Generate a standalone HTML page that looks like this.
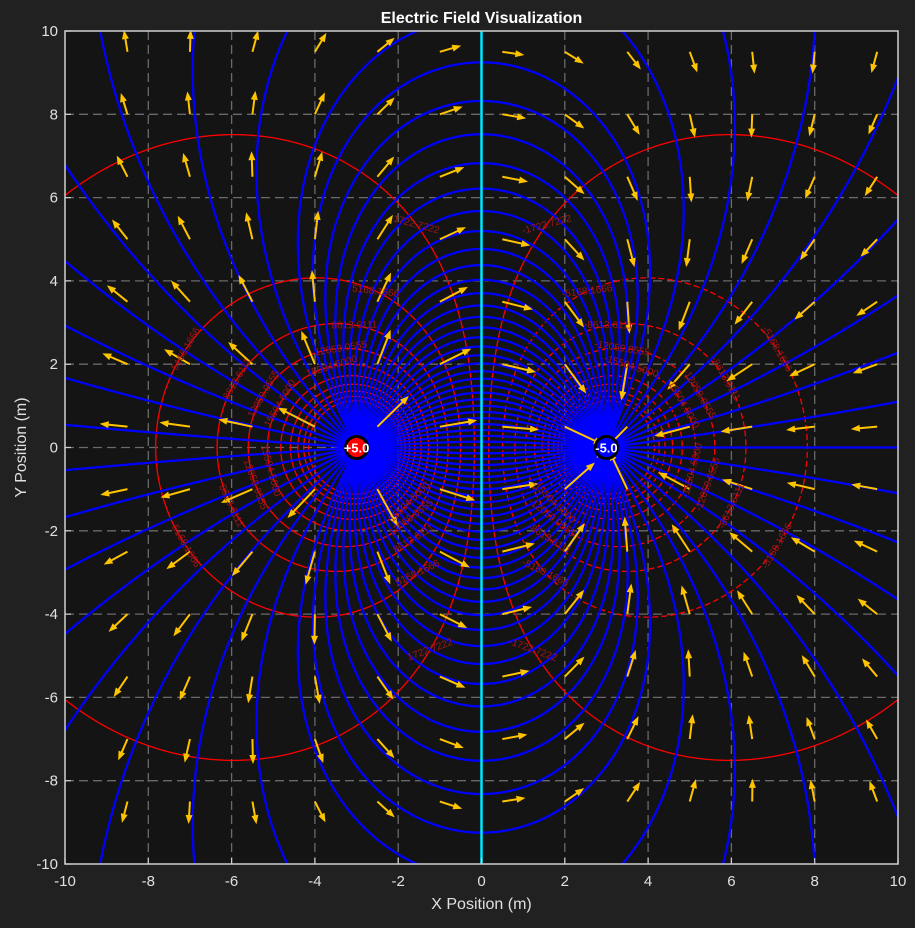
<!DOCTYPE html>
<html><head><meta charset="utf-8"><style>
html,body{margin:0;padding:0;background:#212121;}
svg{display:block;font-family:"Liberation Sans",sans-serif;}
</style></head><body>
<svg id="chart" width="915" height="928" viewBox="0 0 915 928" xmlns="http://www.w3.org/2000/svg">
<rect x="0" y="0" width="915" height="928" fill="#212121"/>
<defs><clipPath id="plotclip"><rect x="65" y="31" width="833" height="833"/></clipPath></defs>
<rect x="65" y="31" width="833" height="833" fill="#141414"/>
<g id="grid"></g>
<g id="contours" clip-path="url(#plotclip)"></g>
<g id="fieldlines" clip-path="url(#plotclip)"></g>
<line id="midline" stroke="#00e5ff" stroke-width="2.5"/>
<g id="arrows" clip-path="url(#plotclip)"></g>
<g id="labels" clip-path="url(#plotclip)"></g>
<g id="charges"></g>
<rect x="65" y="31" width="833" height="833" fill="none" stroke="#cfcfcf" stroke-width="1.5"/>
<g id="ticks"></g>
<text x="481.5" y="23" text-anchor="middle" fill="#ffffff" font-size="16" font-weight="bold">Electric Field Visualization</text>
<text x="481.5" y="909" text-anchor="middle" fill="#e0e0e0" font-size="16">X Position (m)</text>
<text x="26" y="447.5" text-anchor="middle" fill="#e0e0e0" font-size="16" transform="rotate(-90 26 447.5)">Y Position (m)</text>
</svg>
<script>
const chargeX = [-3, 3];
const chargeY = [0, 0];
const chargeQ = [5.0, -5.0];
const tickValues = [-10, -8, -6, -4, -2, 0, 2, 4, 6, 8, 10];
const potentialLevels = [1722.7222, 5168.1666, 8613.6111, 12059.0555, 15504.5, 18949.9444, 22395.3888, 25840.8333, 29286.2777, 32731.7222];
const labelLevels = [1722.7222, 5168.1666, 8613.6111, 12059.0555, 15504.5];
const kq = 44950;
const NS = "http://www.w3.org/2000/svg";
const X = x => 481.5 + 41.65 * x;
const Y = y => 447.5 - 41.65 * y;
function mk(tag, attrs, parent){const e=document.createElementNS(NS,tag);for(const k in attrs)e.setAttribute(k,attrs[k]);parent.appendChild(e);return e;}
function field(x,y){let ex=0,ey=0;for(let i=0;i<chargeX.length;i++){const dx=x-chargeX[i],dy=y-chargeY[i];const r2=dx*dx+dy*dy;const r3=Math.pow(r2,1.5);ex+=Math.sign(chargeQ[i])*dx/r3;ey+=Math.sign(chargeQ[i])*dy/r3;}return [ex,ey];}
function pot(x,y){let v=0;for(let i=0;i<chargeX.length;i++){v+=Math.sign(chargeQ[i])/Math.hypot(x-chargeX[i],y-chargeY[i]);}return v;}

const grid=document.getElementById('grid'), ticks=document.getElementById('ticks');
tickValues.forEach(t=>{
  if(t>-10&&t<10){
    const gv=mk('line',{x1:X(t),x2:X(t),y1:31,y2:864,stroke:'#6a6a6a','stroke-width':1.3,'stroke-dasharray':'9,5'},grid);
    
    
    const gh=mk('line',{x1:65,x2:898,y1:Y(t),y2:Y(t),stroke:'#6a6a6a','stroke-width':1.3,'stroke-dasharray':'9,5'},grid);
    
    
  }
  const tx=mk('text',{x:X(t),y:886,'text-anchor':'middle',fill:'#e0e0e0','font-size':15},ticks);
  tx.textContent=String(t);
  
  
  const ty=mk('text',{x:58,y:Y(t)+5,'text-anchor':'end',fill:'#e0e0e0','font-size':15},ticks);
  ty.textContent=String(t);
  
  
  const m1=mk('line',{x1:X(t),x2:X(t),y1:864,y2:858,stroke:'#cfcfcf','stroke-width':1.2},ticks);
  
  
  const m2=mk('line',{x1:65,x2:71,y1:Y(t),y2:Y(t),stroke:'#cfcfcf','stroke-width':1.2},ticks);
  
  
});

const cg=document.getElementById('contours'), lg=document.getElementById('labels');
function contourR(v,th){
  let lo=0.01,hi=40;
  for(let it=0;it<50;it++){const m=(lo+hi)/2;const p=pot(chargeX[0]+m*Math.cos(th),chargeY[0]+m*Math.sin(th));if(p>v)lo=m;else hi=m;}
  return (lo+hi)/2;
}
potentialLevels.forEach(L=>{
  const v=L/kq;
  [1,-1].forEach(s=>{
    let d='';
    for(let i=0;i<=360;i++){const th=i*Math.PI/180;const r=contourR(v,th);
      const x=s*(chargeX[0]+r*Math.cos(th)), y=chargeY[0]+r*Math.sin(th);
      d+=(i?'L':'M')+X(x).toFixed(1)+','+Y(y).toFixed(1);}
    const p=mk('path',{d:d,fill:'none',stroke:'#ff0000','stroke-width':1.3},cg);
    if(s<0&&L>3000)p.setAttribute('stroke-dasharray','6,3');
    
    
  });
});
labelLevels.forEach((L,k)=>{
  const v=L/kq;
  const angs=[75+k*8,150,215-k*5,290+k*6];
  angs.forEach(a=>{
    const th=a*Math.PI/180;const r=contourR(v,th);
    [1,-1].forEach(s=>{
      const x=s*(chargeX[0]+r*Math.cos(th)), y=chargeY[0]+r*Math.sin(th);
      const thd=s>0?a:180-a;
      let rot=-(thd+90); while(rot>90)rot-=180; while(rot<-90)rot+=180;
      const t=mk('text',{x:X(x),y:Y(y)+3,'text-anchor':'middle',fill:'#a01818','font-size':10,transform:`rotate(${rot.toFixed(1)} ${X(x).toFixed(1)} ${Y(y).toFixed(1)})`},lg);
      t.textContent=(s<0?'-':'')+L.toFixed(4);
      
      
    });
  });
});

const fg=document.getElementById('fieldlines');
const N=48;
function trace(x0,y0,dir,target){
  let x=x0,y=y0,d='M'+X(x).toFixed(1)+','+Y(y).toFixed(1);const h=0.03;
  for(let i=0;i<3000;i++){
    let [ex,ey]=field(x,y);let m=Math.hypot(ex,ey);ex/=m;ey/=m;
    let xm=x+dir*ex*h/2, ym=y+dir*ey*h/2;
    let [fx,fy]=field(xm,ym);m=Math.hypot(fx,fy);
    x+=dir*fx/m*h;y+=dir*fy/m*h;
    d+='L'+X(x).toFixed(1)+','+Y(y).toFixed(1);
    if(Math.abs(x)>10.3||Math.abs(y)>10.3)break;
    if(Math.hypot(x-chargeX[target],y-chargeY[target])<0.1)break;
  }
  return d;
}
for(let i=0;i<N;i++){
  const a=(i+0.5)*2*Math.PI/N;
  const p=mk('path',{d:trace(chargeX[0]+0.1*Math.cos(a),chargeY[0]+0.1*Math.sin(a),1,1),fill:'none',stroke:'#0000ff','stroke-width':2.3},fg);
  
  
  const b=i*2*Math.PI/N;
  const q=mk('path',{d:trace(chargeX[1]+0.1*Math.cos(b),chargeY[1]+0.1*Math.sin(b),-1,0),fill:'none',stroke:'#0000ff','stroke-width':2.3},fg);
  
  
}
const ml=document.getElementById('midline');
ml.setAttribute('x1',X(0));ml.setAttribute('x2',X(0));ml.setAttribute('y1',Y(10));ml.setAttribute('y2',Y(-10));

const ag=document.getElementById('arrows');
for(let i=0;i<13;i++)for(let j=0;j<13;j++){
  const x=-8.5+1.5*i,y=-8.5+1.5*j;
  const [ex,ey]=field(x,y);const m=Math.hypot(ex,ey);
  let Lp=25+4*Math.log(m/0.012);Lp=Math.max(22,Math.min(44,Lp));
  const ux=ex/m,uy=-ey/m;
  const x0=X(x),y0=Y(y),x1=x0+ux*Lp,y1=y0+uy*Lp;
  const g=mk('g',{},ag);
  
  
  mk('line',{x1:x0,y1:y0,x2:x1-ux*7,y2:y1-uy*7,stroke:'#ffc400','stroke-width':2},g);
  const px=-uy,py=ux;
  mk('polygon',{points:`${x1},${y1} ${x1-ux*9+px*3.5},${y1-uy*9+py*3.5} ${x1-ux*9-px*3.5},${y1-uy*9-py*3.5}`,fill:'#ffc400'},g);
}

const chg=document.getElementById('charges');
for(let i=0;i<chargeX.length;i++){
  const c=mk('circle',{cx:X(chargeX[i]),cy:Y(chargeY[i]),r:11,fill:chargeQ[i]>0?'#ff0000':'#0000ff',stroke:'#000','stroke-width':3},chg);
  
  
  const t=mk('text',{x:X(chargeX[i]),y:Y(chargeY[i])+5,'text-anchor':'middle',fill:'#fff','font-size':13,'font-weight':'bold'},chg);
  t.textContent=(chargeQ[i]>0?'+':'')+chargeQ[i].toFixed(1);
  
  
}
</script>
</body></html>
